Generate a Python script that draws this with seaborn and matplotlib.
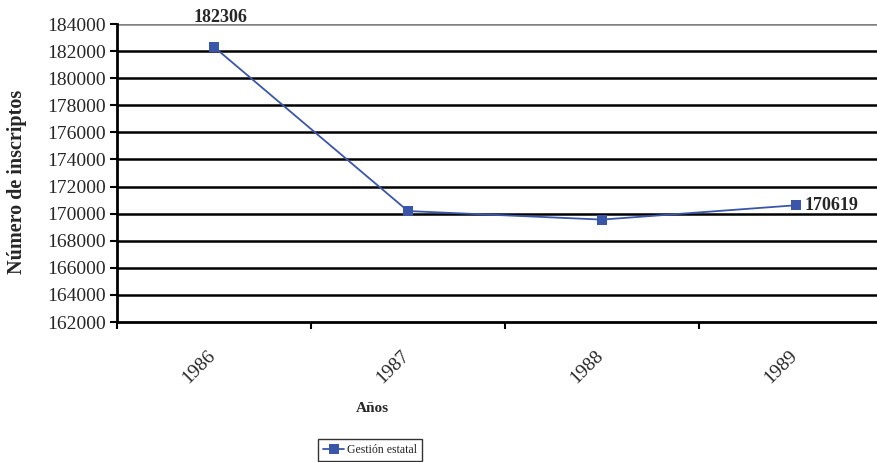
import matplotlib
matplotlib.use("Agg")
import matplotlib.pyplot as plt
import matplotlib.transforms as mtransforms
import seaborn as sns
import pandas as pd

years = ["1986", "1987", "1988", "1989"]
inscriptos = [182306, 170190, 169560, 170619]
series_name = "Gestión estatal"
y_ticks = list(range(162000, 184001, 2000))

sns.set_style("white")
plt.rcParams["font.family"] = ["Liberation Serif", "DejaVu Serif"]

df = pd.DataFrame({"Año": years, "Inscriptos": inscriptos, "Serie": series_name})

fig = plt.figure(figsize=(8.78, 4.62), dpi=100)
ax = fig.add_axes([117 / 878, 1 - 322 / 462, 776 / 878, 298 / 462])

pos = list(range(len(years)))
sns.lineplot(x=pos, y=inscriptos, marker="s", markersize=7, color="#3A56A8",
             linewidth=1.3, markeredgewidth=0, ax=ax, label=series_name, legend=False)

ax.set_xlim(-0.5, len(years) - 0.5)
ax.set_ylim(y_ticks[0], y_ticks[-1])
ax.set_yticks(y_ticks)
ax.set_yticklabels([str(t) for t in y_ticks], fontsize=14)
for t in y_ticks[1:]:
    ax.axhline(t, color="black" if t != y_ticks[-1] else "#808080", lw=1.8, zorder=0)

ax.set_xticks(pos)
ax.set_xticklabels(years, rotation=45, fontsize=14, ha="right", va="top",
                   rotation_mode="anchor")
ax.tick_params(axis="x", which="major", length=0, pad=18, bottom=True)
offset = mtransforms.ScaledTranslation(-0.07, 0, fig.dpi_scale_trans)
for lbl in ax.get_xticklabels():
    lbl.set_transform(lbl.get_transform() + offset)
ax.set_xticks([p - 0.5 for p in pos], minor=True)
ax.tick_params(axis="x", which="minor", length=5, width=1.5, color="black",
               direction="out", bottom=True)
ax.tick_params(axis="y", length=5, width=1.5, color="black", direction="out",
               pad=3, left=True)

for s in ["top", "right"]:
    ax.spines[s].set_visible(False)
for s in ["left", "bottom"]:
    ax.spines[s].set_color("black")
    ax.spines[s].set_linewidth(2)

ax.set_ylabel("Número de inscriptos", fontsize=14.5, fontweight="bold")
ax.yaxis.set_label_coords((27 - 117) / 776, (322 - 182) / 298)
ax.set_xlabel("Años", fontsize=11, fontweight="bold")
ax.xaxis.set_label_coords((372 - 117) / 776, -0.268)

ax.annotate(str(inscriptos[0]), (pos[0], inscriptos[0]), xytext=(5, 15),
            textcoords="offset points", ha="center", va="bottom",
            fontsize=13, fontweight="bold")
ax.annotate(str(inscriptos[-1]), (pos[-1], inscriptos[-1]), xytext=(6, 0),
            textcoords="offset points", ha="left", va="center",
            fontsize=13, fontweight="bold")

leg = ax.legend(loc="center", bbox_to_anchor=(370 / 878, 1 - 450 / 462),
                bbox_transform=fig.transFigure, fontsize=8.5, frameon=True,
                fancybox=False, edgecolor="black", handlelength=1.8,
                borderpad=0.45, handletextpad=0.2)
leg.get_frame().set_linewidth(1)

fig.savefig("out.png", dpi=100)
